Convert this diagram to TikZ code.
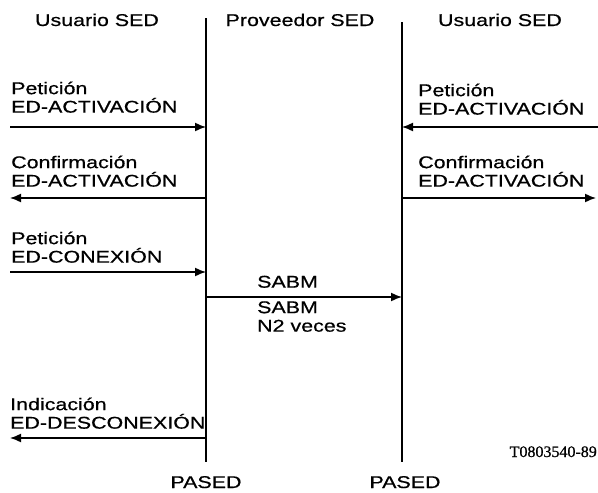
\documentclass[tikz,border=0pt]{standalone}
\usepackage{fontspec}
\setmainfont{Liberation Sans}[FakeStretch=1.26, FakeBold=0.6]
\newfontfamily\refFont{Liberation Serif}[FakeBold=0.8]
\usepackage{tikz}
\usetikzlibrary{arrows.meta}
\tikzstyle{life}=[line width=1.8pt]
\tikzstyle{msg}=[-{Latex[length=11pt,width=9pt]}, line width=1.5pt]
\tikzstyle{hdr}=[anchor=base, inner sep=0pt, font=\fontsize{17}{18}\selectfont]
\tikzstyle{lbl}=[anchor=south west, inner sep=0pt, align=left, font=\fontsize{17}{18.5}\selectfont]

\begin{document}
\begin{tikzpicture}[x=1pt, y=-1pt]
      \useasboundingbox (0,0) rectangle (598,493);
      % cabeceras
      \node(uA) [hdr] at (97,26){Usuario SED};
      \node(pr) [hdr] at (300,26){Proveedor SED};
      \node(uB) [hdr] at (500,26){Usuario SED};
      % lineas de tiempo
      \coordinate (aT) at (206,18);
      \coordinate (aB) at (206,462);
      \coordinate (bT) at (402,22);
      \coordinate (bB) at (402,462);
      \draw[life] (aT) to (aB);
      \draw[life] (bT) to (bB);
      \node(pA) [hdr] at (206,488){PASED};
      \node(pB) [hdr] at (405,488){PASED};
      % extremos de las flechas
      \coordinate (x1) at (10,127);   \coordinate (a1) at (206,127);
      \coordinate (x2) at (10,198);   \coordinate (a2) at (206,198);
      \coordinate (x3) at (10,272);   \coordinate (a3) at (206,272);
      \coordinate (a4) at (206,297);  \coordinate (b4) at (402,297);
      \coordinate (x5) at (10,438);   \coordinate (a5) at (206,438);
      \coordinate (y1) at (598,127);  \coordinate (b1) at (402,127);
      \coordinate (y2) at (596,198);  \coordinate (b2) at (402,198);
      \draw[msg] (x1) to (a1);
      \draw[msg] (a2) to (x2);
      \draw[msg] (x3) to (a3);
      \draw[msg] (a4) to (b4);
      \draw[msg] (a5) to (x5);
      \draw[msg] (y1) to (b1);
      \draw[msg] (b2) to (y2);
      % textos
      \node(t1) [lbl] at (11,113){Petición\\ED-ACTIVACIÓN};
      \node(t2) [lbl] at (11,187){Confirmación\\ED-ACTIVACIÓN};
      \node(t3) [lbl] at (11,263){Petición\\ED-CONEXIÓN};
      \node(t4) [lbl] at (10,429){Indicación\\ED-DESCONEXIÓN};
      \node(t5) [lbl] at (418,115){Petición\\ED-ACTIVACIÓN};
      \node(t6) [lbl] at (418,187){Confirmación\\ED-ACTIVACIÓN};
      \node(s1) [lbl] at (257,288){SABM};
      \node(s2) [lbl] at (257,332){SABM\\N2 veces};
      \node(L) [anchor=base east, inner sep=0pt, font=\refFont\fontsize{16}{18}\selectfont] at (597,457){T0803540-89};
    \end{tikzpicture}
\end{document}
